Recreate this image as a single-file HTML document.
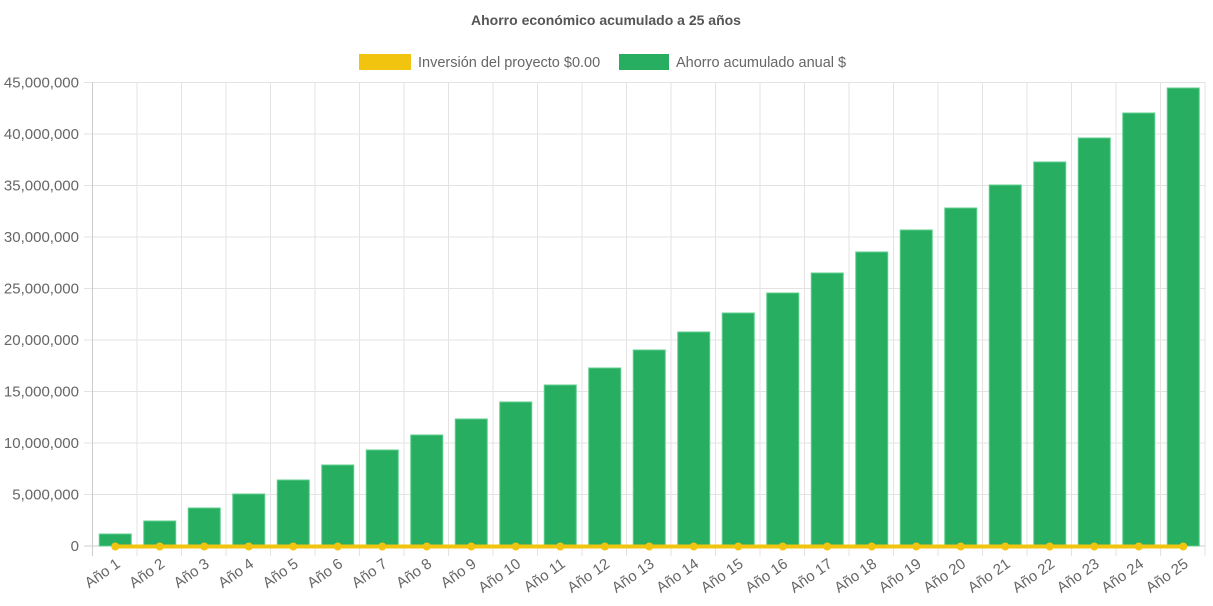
<!DOCTYPE html>
<html><head><meta charset="utf-8"><style>
html,body{margin:0;padding:0;background:#fff;}
svg{display:block;font-family:"Liberation Sans",Arial,sans-serif;}
</style></head><body>
<svg id="c" width="1213" height="606" xmlns="http://www.w3.org/2000/svg">
<text x="606" y="25" text-anchor="middle" font-size="14" font-weight="bold" fill="#555">Ahorro económico acumulado a 25 años</text>
<rect x="359" y="54" width="52" height="16" fill="#f1c40f"/>
<text x="418" y="67" font-size="14.5" fill="#666">Inversión del proyecto $0.00</text>
<rect x="619" y="54" width="50" height="16" fill="#27ae60"/>
<text x="676" y="67" font-size="14.5" fill="#666">Ahorro acumulado anual $</text>
<g id="g"></g>
</svg>
<script>
var g=document.getElementById('g'),h='';
var L=92.5,W=44.5,T=82.5,Z=546;
for(var i=0;i<=9;i++){var y=Z-i*(Z-T)/9;
h+='<line x1="84" x2="1205" y1="'+y+'" y2="'+y+'" stroke="'+(i==0?'#ccc':'#e3e3e3')+'"/>';
h+='<text x="79" y="'+(y+5)+'" text-anchor="end" font-size="15" fill="#666">'+(i*5000000).toLocaleString('en-US')+'</text>';}
for(var i=0;i<=25;i++){var x=L+i*W;h+='<line x1="'+x+'" x2="'+x+'" y1="'+T+'" y2="556" stroke="'+(i==0?'#ccc':'#e3e3e3')+'"/>';}
var tops=[534,521,508,494,480,465,450,435,419,402,385,368,350,332,313,293,273,252,230,208,185,162,138,113,88];
for(var i=0;i<25;i++){var cx=L+i*W+W/2+0.5;
h+='<rect x="'+(cx-16)+'" y="'+tops[i]+'" width="32" height="'+(Z-tops[i])+'" fill="#27ae60" stroke="#5fcf8f" stroke-width="1"/>';
h+='<text transform="translate('+(cx+6)+',566) rotate(-35)" text-anchor="end" font-size="15" fill="#666">Año '+(i+1)+'</text>';}
h+='<line x1="'+(L+W/2)+'" x2="'+(L+24.5*W)+'" y1="546.5" y2="546.5" stroke="#f1c40f" stroke-width="4"/>';
for(var i=0;i<25;i++){h+='<circle cx="'+(L+i*W+W/2+0.5)+'" cy="546.5" r="4" fill="#f1c40f"/>';}
g.innerHTML=h;
</script>
</body></html>
